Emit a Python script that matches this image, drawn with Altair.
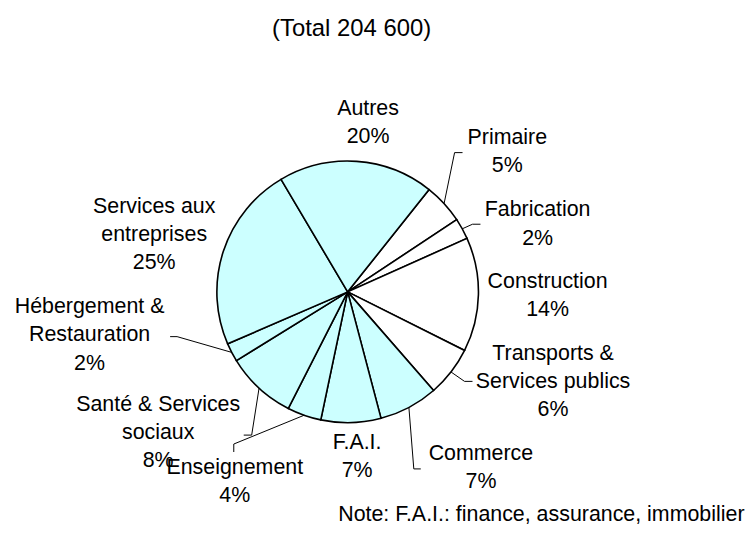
import math
import altair as alt
import pandas as pd

# ---- data ----
categories = ["Primaire", "Fabrication", "Construction",
              "Transports & Services publics", "Commerce", "F.A.I.",
              "Enseignement", "Santé & Services sociaux",
              "Hébergement & Restauration", "Services aux entreprises", "Autres"]
shares = [5.0, 2.6, 14.1, 6.2, 7.3, 7.4, 4.2, 8.7, 2.3, 23.0, 19.2]
pct_labels = ["5%", "2%", "14%", "6%", "7%", "7%", "4%", "8%", "2%", "25%", "20%"]
label_lines = [["Primaire"], ["Fabrication"], ["Construction"],
               ["Transports &", "Services publics"], ["Commerce"], ["F.A.I."],
               ["Enseignement"], ["Santé & Services", "sociaux"],
               ["Hébergement &", "Restauration"], ["Services aux", "entreprises"],
               ["Autres"]]
title_text = "(Total 204 600)"
note_text = "Note: F.A.I.: finance, assurance, immobilier"

# ---- styles / layout ----
WHITE, CYAN = "#FFFFFF", "#CCFFFF"
fills = [WHITE] * 4 + [CYAN] * 7
CX, CY, R = 341.5, 284.0, 131.5
START_DEG = 38.5
FONT = "Liberation Sans"
FS = 21.5
LH = 28.4

label_pos = {
    "Primaire": (502, 135.3),
    "Fabrication": (532.5, 208),
    "Construction": (542.5, 279.7),
    "Transports & Services publics": (548, 352),
    "Commerce": (475.5, 452.7),
    "F.A.I.": (351, 442),
    "Enseignement": (228, 467),
    "Santé & Services sociaux": (151, 403.7),
    "Hébergement & Restauration": (82, 305.3),
    "Services aux entreprises": (147, 204.7),
    "Autres": (362, 106.3),
}
leader_pts = {
    "Primaire": [(449, 144), (457, 144)],
    "Fabrication": [(467, 216), (475, 216)],
    "Transports & Services publics": [(459, 374), (467, 374)],
    "Commerce": [(408, 462), (415, 462)],
    "Enseignement": [(227, 437), (227, 445)],
    "Santé & Services sociaux": [(245, 428), (237, 428)],
    "Hébergement & Restauration": [(170, 329), (163, 329)],
}

start = math.radians(START_DEG)
total = sum(shares)

pie_df = pd.DataFrame({"cat": categories, "share": shares,
                       "idx": list(range(len(categories)))})

pie = alt.Chart(pie_df).mark_arc(
    outerRadius=R, stroke="black", strokeWidth=1.6
).encode(
    theta=alt.Theta("share:Q", stack=True,
                    scale=alt.Scale(range=[start, start + 2 * math.pi])),
    color=alt.Color("cat:N", scale=alt.Scale(domain=categories, range=fills),
                    legend=None),
    order=alt.Order("idx:Q"),
    x=alt.value(CX), y=alt.value(CY),
)

# labels
lab_rows = []
for c, lines, p in zip(categories, label_lines, pct_labels):
    x, y = label_pos[c]
    lab_rows.append({"cat": c, "txt": "\n".join(lines + [p]), "lx": x, "ly": y})
lab_df = pd.DataFrame(lab_rows)

labels = alt.Chart(lab_df).mark_text(
    font=FONT, fontSize=FS, lineHeight=LH, lineBreak="\n",
    align="center", baseline="alphabetic", color="black"
).encode(
    x=alt.X("lx:Q", scale=None, axis=None),
    y=alt.Y("ly:Q", scale=None, axis=None),
    text="txt:N",
)

# leader lines: from slice edge at mid-angle to elbow to end
line_rows = []
cum = 0.0
for c, s in zip(categories, shares):
    mid = start + 2 * math.pi * (cum + s / 2) / total
    cum += s
    if c in leader_pts:
        pts = [(CX + R * math.sin(mid), CY - R * math.cos(mid))] + leader_pts[c]
        for k, (px, py) in enumerate(pts):
            line_rows.append({"cat": c, "pt": k, "px": px, "py": py})
line_df = pd.DataFrame(line_rows)

leaders = alt.Chart(line_df).mark_line(color="black", strokeWidth=1).encode(
    x=alt.X("px:Q", scale=None, axis=None),
    y=alt.Y("py:Q", scale=None, axis=None),
    detail="cat:N",
    order="pt:Q",
)

extra_df = pd.DataFrame({"txt": [title_text, note_text],
                         "tx": [345.5, 332], "ty": [27, 514]})
title = alt.Chart(extra_df.iloc[[0]]).mark_text(
    font=FONT, fontSize=24, align="center", baseline="alphabetic", color="black"
).encode(x=alt.X("tx:Q", scale=None, axis=None),
         y=alt.Y("ty:Q", scale=None, axis=None), text="txt:N")
note = alt.Chart(extra_df.iloc[[1]]).mark_text(
    font=FONT, fontSize=21.5, align="left", baseline="alphabetic", color="black"
).encode(x=alt.X("tx:Q", scale=None, axis=None),
         y=alt.Y("ty:Q", scale=None, axis=None), text="txt:N")

chart = alt.layer(pie, leaders, labels, title, note).properties(
    width=744, height=519, padding=0, autosize="none"
).configure_view(stroke=None)

chart.save("out.html", embed_options={"renderer": "svg", "actions": False})
